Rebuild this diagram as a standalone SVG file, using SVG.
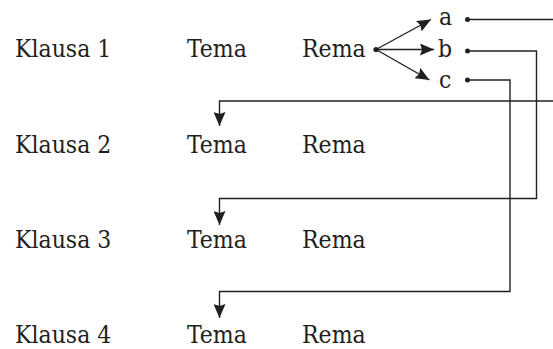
<svg xmlns="http://www.w3.org/2000/svg" width="553" height="349" viewBox="0 0 553 349">
  <style>
    .t { font-family: "DejaVu Serif Condensed", "DejaVu Serif", "Liberation Serif", serif; font-stretch: condensed; font-size: 24.5px; fill: #231f20; }
    .ln { fill: none; stroke: #231f20; stroke-width: 1.4; }
    .dot { fill: #231f20; }
  </style>
  <defs>
    <marker id="arr" viewBox="0 0 14 12" refX="14" refY="6" markerWidth="14" markerHeight="12" markerUnits="userSpaceOnUse" orient="auto">
      <path d="M0,0 L14,6 L0,12 L2,6 z" fill="#231f20"/>
    </marker>
  </defs>

  <!-- clause rows -->
  <g id="klausa1">
    <text class="t" x="15" y="57">Klausa 1</text>
    <text class="t" x="187" y="57">Tema</text>
    <text class="t" x="302" y="57">Rema</text>
  </g>
  <g id="klausa2">
    <text class="t" x="15" y="153">Klausa 2</text>
    <text class="t" x="187" y="153">Tema</text>
    <text class="t" x="302" y="153">Rema</text>
  </g>
  <g id="klausa3">
    <text class="t" x="15" y="248">Klausa 3</text>
    <text class="t" x="187" y="248">Tema</text>
    <text class="t" x="302" y="248">Rema</text>
  </g>
  <g id="klausa4">
    <text class="t" x="15" y="343">Klausa 4</text>
    <text class="t" x="187" y="343">Tema</text>
    <text class="t" x="302" y="343">Rema</text>
  </g>

  <!-- rheme elements -->
  <g id="elem-a"><text class="t" x="439" y="25">a</text><circle class="dot" cx="467.5" cy="19.5" r="2.5"/></g>
  <g id="elem-b"><text class="t" x="438" y="57">b</text><circle class="dot" cx="467.5" cy="51" r="2.5"/></g>
  <g id="elem-c"><text class="t" x="439" y="88">c</text><circle class="dot" cx="467.5" cy="80" r="2.5"/></g>

  <g id="connectors">
    <circle class="dot" cx="376" cy="49.5" r="2.6"/>
    <line class="ln" x1="376" y1="49.5" x2="431" y2="19.5" marker-end="url(#arr)"/>
    <line class="ln" x1="376" y1="49.5" x2="434" y2="49.5" marker-end="url(#arr)"/>
    <line class="ln" x1="376" y1="49.5" x2="429.5" y2="80" marker-end="url(#arr)"/>
    <!-- a leaves the frame to the right and re-enters above clause 2 -->
    <polyline class="ln" points="467.5,19.5 553,19.5"/>
    <polyline class="ln" points="553,101 219.5,101 219.5,126" marker-end="url(#arr)"/>
    <!-- b feeds clause 3 -->
    <polyline class="ln" points="467.5,51 536.5,51 536.5,198.5 219.5,198.5 219.5,225" marker-end="url(#arr)"/>
    <!-- c feeds clause 4 -->
    <polyline class="ln" points="467.5,80 510,80 510,291.5 219.5,291.5 219.5,318" marker-end="url(#arr)"/>
  </g>
</svg>
